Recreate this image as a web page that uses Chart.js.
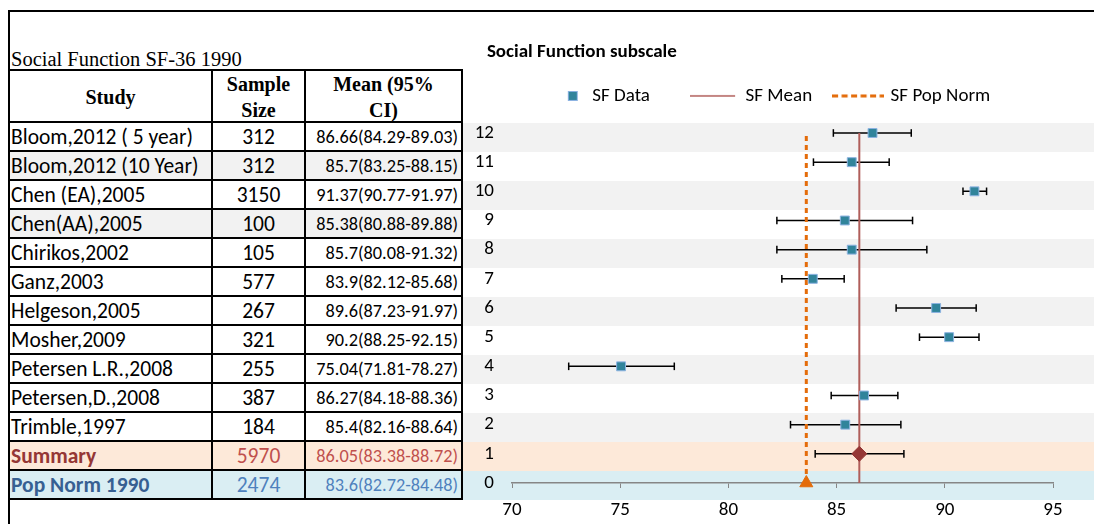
<!DOCTYPE html>
<html>
<head>
<meta charset="utf-8">
<script src="https://cdn.jsdelivr.net/npm/chart.js@4.4.1/dist/chart.umd.min.js"></script>
<style>
  html, body { margin: 0; padding: 0; background: #fff; }
  body { width: 1094px; height: 524px; position: relative; overflow: hidden; font-family: Carlito, Calibri, Lato, sans-serif; color: #000; }
  #frame { position: absolute; left: 8px; top: 10px; width: 1200px; height: 600px; border-top: 2px solid #000; border-left: 2px solid #000; }
  #sheetTitle { position: absolute; left: 11px; top: 49px; font: 20.5px/20px "Liberation Serif", "Times New Roman", serif; white-space: nowrap; }
  #bands { position: absolute; left: 463px; top: 123px; width: 631px; }
  #bands div { height: 29px; }
  #grid { position: absolute; left: 8px; top: 69px; display: grid; grid-template-columns: 203px 93px 157px; grid-template-rows: 52px repeat(13, 29px); border-top: 2px solid #000; border-left: 2px solid #000; }
  .c { box-sizing: border-box; border-right: 2px solid #000; border-bottom: 2px solid #000; display: flex; align-items: center; white-space: nowrap; overflow: hidden; font-size: 21.5px; }
  .h { justify-content: center; text-align: center; font: bold 20px/26px "Liberation Serif", "Times New Roman", serif; padding-top: 2px; }
  .name { padding-left: 1px; }
  .num { justify-content: center; }
  .ci { justify-content: flex-end; padding-right: 3px; font-size: 18.3px; }
  #chartWrap { position: absolute; left: 463px; top: 0; width: 631px; height: 524px; }
</style>
</head>
<body>
<div id="bands"></div>
<div id="frame"></div>
<div id="sheetTitle">Social Function SF-36 1990</div>
<div id="grid">
  <div class="c h">Study</div>
  <div class="c h">Sample<br>Size</div>
  <div class="c h">Mean (95%<br>CI)</div>
</div>
<div id="chartWrap"><canvas id="forest" width="631" height="524"></canvas></div>
<script>
// table + chart data
var studies = ['Bloom,2012 ( 5 year)', 'Bloom,2012 (10 Year)', 'Chen (EA),2005', 'Chen(AA),2005', 'Chirikos,2002', 'Ganz,2003',
               'Helgeson,2005', 'Mosher,2009', 'Petersen L.R.,2008', 'Petersen,D.,2008', 'Trimble,1997'];
var sampleSizes = [312, 312, 3150, 100, 105, 577, 267, 321, 255, 387, 184];
var studyMeans = [86.66, 85.7, 91.37, 85.38, 85.7, 83.9, 89.6, 90.2, 75.04, 86.27, 85.4];
var ciLow  = [84.29, 83.25, 90.77, 80.88, 80.08, 82.12, 87.23, 88.25, 71.81, 84.18, 82.16];
var ciHigh = [89.03, 88.15, 91.97, 89.88, 91.32, 85.68, 91.97, 92.15, 78.27, 88.36, 88.64];
var studyRows = [12, 11, 10, 9, 8, 7, 6, 5, 4, 3, 2];

// whiskers as drawn in the chart
var barLow  = [84.85, 83.93, 90.84, 82.24, 82.24, 82.47, 87.75, 88.83, 72.62, 84.75, 82.87];
var barHigh = [88.45, 87.43, 91.93, 88.51, 89.17, 85.35, 91.45, 91.58, 77.50, 87.83, 87.97];

var summaryLabel = 'Summary', summarySize = 5970, summaryMean = 86.05, summaryCiLow = 83.38, summaryCiHigh = 88.72;
var summaryRow = 1, summaryBarLow = 84.01, summaryBarHigh = 88.11;
var popLabel = 'Pop Norm 1990', popSize = 2474, popMean = 83.6, popCiLow = 82.72, popCiHigh = 84.48;
var popRow = 0;
var lineSpan = [0, 12];

var xTicks = [70, 75, 80, 85, 90, 95];
var yTicks = [0, 1, 2, 3, 4, 5, 6, 7, 8, 9, 10, 11, 12];

var FONT = 'Carlito, Calibri, Lato, sans-serif';
var GRAY = '#F2F2F2', PEACH = '#FDE9D9', BLUE = '#DAEEF3';

// spreadsheet cells
(function(){
  var grid = document.getElementById('grid');
  function cell(html, cls, bg, color, bold){
    var d = document.createElement('div');
    d.className = 'c ' + cls;
    d.innerHTML = html;
    if (bg) d.style.background = bg;
    if (color) d.style.color = color;
    if (bold) d.style.fontWeight = 'bold';
    grid.appendChild(d);
  }
  var tableFill = ['', GRAY, '', GRAY, '', '', '', '', '', '', ''];
  studies.forEach(function(s, i){
    cell(s, 'name', tableFill[i]);
    cell(sampleSizes[i], 'num', tableFill[i]);
    cell(studyMeans[i] + '(' + ciLow[i] + '-' + ciHigh[i] + ')', 'ci', tableFill[i]);
  });
  cell(summaryLabel, 'name', PEACH, '#953735', true);
  cell(summarySize, 'num', PEACH, '#C0504D');
  cell(summaryMean + '(' + summaryCiLow + '-' + summaryCiHigh + ')', 'ci', PEACH, '#C0504D');
  cell(popLabel, 'name', BLUE, '#376092', true);
  cell(popSize, 'num', BLUE, '#4F81BD');
  cell(popMean + '(' + popCiLow + '-' + popCiHigh + ')', 'ci', BLUE, '#4F81BD');

  var bands = document.getElementById('bands');
  for (var i = 0; i < studies.length + 2; i++) {
    var b = document.createElement('div');
    b.style.background = i === studies.length ? PEACH : i === studies.length + 1 ? BLUE : (i % 2 === 0 ? GRAY : '#fff');
    bands.appendChild(b);
  }
})();

function makeIcon(w, h, paint){
  var c = document.createElement('canvas');
  c.width = w; c.height = h;
  paint(c.getContext('2d'));
  return c;
}

var iconData = makeIcon(46, 10, function(g){
  g.fillStyle = '#31849B'; g.fillRect(32, 1, 8, 8);
  g.strokeStyle = '#8DB3E2'; g.lineWidth = 1; g.strokeRect(31.5, 0.5, 9, 9);
});
var iconMean = makeIcon(46, 4, function(g){
  g.strokeStyle = '#B05E5A'; g.lineWidth = 1.5;
  g.beginPath(); g.moveTo(0, 2); g.lineTo(45, 2); g.stroke();
});
var iconPop = makeIcon(52, 4, function(g){
  g.strokeStyle = '#E46C0A'; g.lineWidth = 3; g.setLineDash([6, 3.5]);
  g.beginPath(); g.moveTo(0, 2); g.lineTo(52, 2); g.stroke();
});

function buildChart(){
  var errData = [];
  studyRows.forEach(function(r, i){
    errData.push({x: barLow[i], y: r}, {x: barHigh[i], y: r}, {x: barHigh[i], y: null});
  });
  errData.push({x: summaryBarLow, y: summaryRow}, {x: summaryBarHigh, y: summaryRow});

  var datasets = [
    {
      label: 'SF Data',
      data: studyRows.map(function(r, i){ return {x: studyMeans[i], y: r}; }),
      pointStyle: 'rect', pointRadius: 6.3,
      pointBackgroundColor: '#31849B', pointBorderColor: '#8DB3E2', pointBorderWidth: 1,
      showLine: false, order: 3, clip: false
    },
    {
      label: 'SF Mean',
      data: lineSpan.map(function(v){ return {x: summaryMean, y: v}; }),
      showLine: true, borderColor: '#B05E5A', borderWidth: 2, pointRadius: 0, order: 4, clip: false
    },
    {
      label: 'SF Pop Norm',
      data: lineSpan.map(function(v){ return {x: popMean, y: v}; }),
      showLine: true, borderColor: '#E46C0A', borderWidth: 3, borderDash: [5, 4], pointRadius: 0, order: 5, clip: false
    },
    {
      label: 'Summary',
      data: [{x: summaryMean, y: summaryRow}],
      pointStyle: 'rectRot', pointRadius: 7.5,
      pointBackgroundColor: '#953735', pointBorderColor: '#953735', pointBorderWidth: 1,
      showLine: false, order: 2, clip: false
    },
    {
      label: 'Pop Norm',
      data: [{x: popMean, y: popRow}],
      pointStyle: 'triangle', pointRadius: 7.5,
      pointBackgroundColor: '#E46C0A', pointBorderColor: '#E46C0A', pointBorderWidth: 1,
      showLine: false, order: 1, clip: false
    },
    {
      label: 'CI',
      data: errData,
      showLine: true, spanGaps: false, borderColor: '#000', borderWidth: 1.5,
      pointStyle: 'line', pointRotation: 90, pointRadius: 3.8,
      pointBorderColor: '#000', pointBorderWidth: 1.5, order: 6, clip: false
    }
  ];

  var legendIcons = [iconData, iconMean, iconPop];
  // extra room after the first entry, as in the original legend
  var legendText = ['SF Data    ', 'SF Mean', 'SF Pop Norm'];

  new Chart(document.getElementById('forest').getContext('2d'), {
    type: 'scatter',
    data: { datasets: datasets },
    options: {
      responsive: false,
      animation: false,
      layout: { padding: { left: 11, right: 41, top: 0, bottom: 0 } },
      plugins: {
        title: {
          display: true, text: '   Social Function subscale', align: 'start', color: '#000',
          font: { family: FONT, size: 19, weight: 'bold' },
          padding: { top: 40.6, bottom: 0 }
        },
        legend: {
          position: 'top', align: 'center',
          labels: {
            usePointStyle: true, pointStyleWidth: 46, padding: 23, color: '#000',
            font: { family: FONT, size: 19 },
            generateLabels: function(chart){
              return [0, 1, 2].map(function(i){
                return {
                  text: legendText[i], pointStyle: legendIcons[i],
                  fillStyle: 'transparent', strokeStyle: 'transparent', lineWidth: 0,
                  hidden: false, datasetIndex: i
                };
              });
            }
          }
        },
        tooltip: { enabled: false }
      },
      scales: {
        x: {
          type: 'linear', min: 70, max: 95,
          afterBuildTicks: function(s){ s.ticks = xTicks.map(function(v){ return {value: v}; }); },
          afterFit: function(s){ s.height = 41; },
          grid: { drawOnChartArea: false, drawTicks: true, tickLength: 5, color: '#868686' },
          border: { display: true, color: '#868686', width: 1.5 },
          ticks: { padding: 11, color: '#000', font: { family: FONT, size: 19 } }
        },
        y: {
          type: 'linear', min: 0, max: 12.603,
          afterBuildTicks: function(s){ s.ticks = yTicks.map(function(v){ return {value: v}; }); },
          afterFit: function(s){ s.width = 38; },
          grid: { display: false, drawTicks: false },
          border: { display: false },
          ticks: { padding: 18, color: '#000', font: { family: FONT, size: 19 } }
        }
      }
    }
  });
}

document.addEventListener('DOMContentLoaded', buildChart);
</script>
</body>
</html>
